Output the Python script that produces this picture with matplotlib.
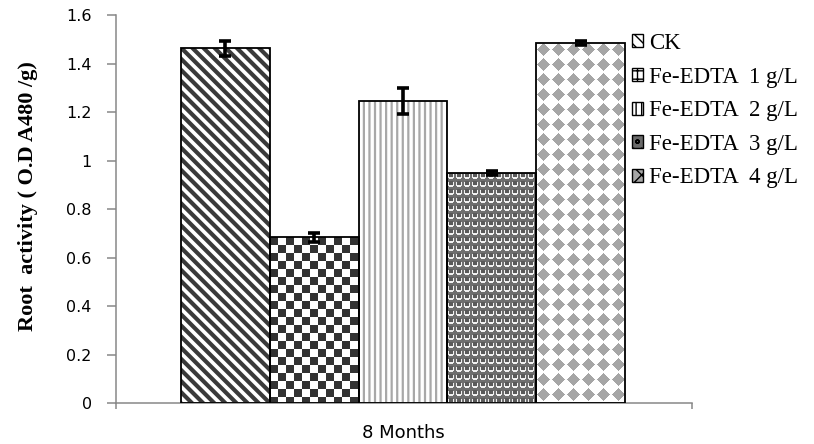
import matplotlib
matplotlib.use("Agg")
import numpy as np
import matplotlib.pyplot as plt
from matplotlib.patches import Patch
from matplotlib.colors import to_rgb

categories = ["CK", "Fe-EDTA  1 g/L", "Fe-EDTA  2 g/L", "Fe-EDTA  3 g/L", "Fe-EDTA  4 g/L"]
values = [1.464, 0.684, 1.247, 0.950, 1.487]
errors = [0.032, 0.017, 0.055, 0.010, 0.008]
group_label = "8 Months"
y_ticks = [0, 0.2, 0.4, 0.6, 0.8, 1, 1.2, 1.4, 1.6]
y_tick_labels = ["0", "0.2", "0.4", "0.6", "0.8", "1", "1.2", "1.4", "1.6"]


def tile_checker(yy, xx):
    dark = ((xx // 8) + (yy // 8)) % 2 == 0
    out = np.ones(yy.shape + (3,))
    out[dark] = to_rgb("#333333")
    return out


def tile_balls(yy, xx):
    out = np.empty(yy.shape + (3,))
    out[:] = to_rgb("#6e6e6e")
    cx, cy = (xx % 8) - 3.5, (yy % 8) - 3.5
    r = np.hypot(cx, cy)
    ring = r <= 3.4
    ball = np.hypot(cx, cy + 0.8) <= 2.3
    out[ring] = to_rgb("#f0f0f0")
    out[ball] = to_rgb("#5a5a5a")
    return out


def tile_diamonds(yy, xx):
    out = np.ones(yy.shape + (3,))
    cx, cy = (xx % 15) - 7, (yy % 15) - 7
    d = (np.abs(cx) + np.abs(cy)) <= 6.5
    out[d] = to_rgb("#a6a6a6")
    return out


# styles: (face, hatch, hatch colour, hatch linewidth, texture, legend hatch)
styles = [
    ("white", "\\\\\\", "#3a3a3a", 3.0, None, "\\\\\\"),
    ("white", None, "#333333", 1.0, tile_checker, "++"),
    ("white", "|||", "#a8a8a8", 1.6, None, "|||"),
    ("#6a6a6a", None, "#eeeeee", 1.0, tile_balls, "oo"),
    ("#a6a6a6", None, "white", 1.0, tile_diamonds, "xx"),
]

fig = plt.figure(figsize=(8.14, 4.44), dpi=100)
ax = fig.add_axes([0.1425, 0.0917, 0.7075, 0.8738])
ax.set_xlim(-1.23, 5.25)
ax.set_ylim(0, 1.6)

xpos = list(range(len(values)))
for i, (x, v, e) in enumerate(zip(xpos, values, errors)):
    face, hatch, hcol, hlw, tex, _ = styles[i]
    with plt.rc_context({"hatch.linewidth": hlw, "hatch.color": hcol}):
        b = ax.bar(x, v, width=1.0, color=face, edgecolor=hcol, hatch=hatch,
                   linewidth=0, zorder=2)
        for p in b:
            if hasattr(p, "set_hatch_linewidth"):
                p.set_hatch_linewidth(hlw)
    if tex is not None:
        p = b[0]
        fig.canvas.draw()
        bb = p.get_window_extent()
        w = max(1, int(round(bb.width)))
        h = max(1, int(round(bb.height)))
        yy, xx = np.mgrid[0:h, 0:w]
        img = tex(yy, xx)
        x0, y0 = p.get_x(), p.get_y()
        im = ax.imshow(img, extent=[x0, x0 + p.get_width(), y0, y0 + p.get_height()],
                       origin="upper", interpolation="nearest", aspect="auto", zorder=2.5)
        im.set_clip_path(p)
    ax.bar(x, v, width=1.0, fill=False, edgecolor="black", linewidth=1.3, zorder=3)
    ax.errorbar(x, v, yerr=e, fmt="none", ecolor="black", elinewidth=2.6,
                capsize=4, capthick=2.6, zorder=4)

ax.set_xlim(-1.23, 5.25)
ax.set_ylim(0, 1.6)

for s in ["top", "right"]:
    ax.spines[s].set_visible(False)
for s in ["left", "bottom"]:
    ax.spines[s].set_color("#878787")
    ax.spines[s].set_linewidth(1.1)

ax.set_yticks(y_ticks)
ax.set_yticklabels(y_tick_labels, fontfamily="DejaVu Sans", fontsize=11.5)
ax.tick_params(axis="y", direction="out", length=6.5, width=1.1, color="#878787", pad=11)

ax.set_xticks([-1.23, 5.25])
ax.set_xticklabels(["", ""])
ax.tick_params(axis="x", which="major", direction="out", length=4, width=1.1, color="#878787")
ax.set_xticks([2], minor=True)
ax.set_xticklabels([group_label], minor=True, fontfamily="DejaVu Sans", fontsize=13)
ax.tick_params(axis="x", which="minor", length=0, pad=15)

fig.text(28 / 814, 1 - 196 / 444, "Root  activity ( O.D A480 /g)", rotation=90,
         ha="center", va="center", fontfamily="Liberation Serif", fontweight="bold", fontsize=16)

handles = []
for i, lab in enumerate(categories):
    face, hatch, hcol, hlw, tex, lh = styles[i]
    handles.append(Patch(facecolor=face, edgecolor="black", hatch=lh, linewidth=1.0, label=lab))

leg = fig.legend(handles=handles, loc="upper left", bbox_to_anchor=(632 / 814, 1 - 33 / 444),
                 frameon=False, prop={"family": "Liberation Serif", "size": 16.5},
                 handlelength=0.5, handleheight=0.5, handletextpad=0.25, labelspacing=0.55,
                 borderaxespad=0, borderpad=0)

fig.savefig("out.png", dpi=100)
